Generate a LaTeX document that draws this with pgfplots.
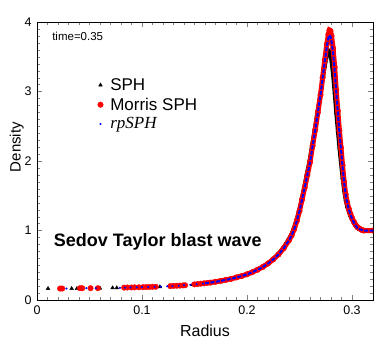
\documentclass[border=0pt]{standalone}
\usepackage{fontspec}
\setmainfont{Liberation Sans}
\newfontfamily\timesf{Liberation Serif}
\usepackage{pgfplots}
\pgfplotsset{compat=1.18}
\begin{document}
\begin{tikzpicture}
\begin{axis}[
  scale only axis,
  width=336pt, height=278pt,
  xmin=0, xmax=0.32, ymin=0, ymax=4,
  xtick={0,0.1,0.2,0.3}, ytick={0,1,2,3,4},
  minor x tick num=9, minor y tick num=9,
  tick align=inside, major tick length=5pt, minor tick length=3pt,
  xticklabel style={/pgf/number format/fixed, /pgf/number format/assume math mode=true, font=\fontsize{12.5}{14}\selectfont, yshift=-2pt},
  yticklabel style={/pgf/number format/assume math mode=true, font=\fontsize{12.5}{14}\selectfont, xshift=-2pt},
  xlabel={Radius}, ylabel={Density},
  xlabel style={font=\fontsize{16}{18}\selectfont, at={(axis description cs:0.5,-0.112)}, anchor=center},
  ylabel style={font=\fontsize{15}{17}\selectfont, at={(axis description cs:-0.06,0.55)}, anchor=center},
  legend style={draw=none, fill=none, at={(rel axis cs:0.18,0.805)}, anchor=north west,
    font=\fontsize{17}{19}\selectfont, row sep=2pt, inner sep=0pt,
    /tikz/every odd column/.append style={column sep=5pt}},
  legend cell align=left,
  every axis plot/.append style={mark options={line width=0.3pt}},
  clip marker paths=true,
  clip=true,
]
% SPH (black)
\addplot[only marks, mark=triangle*, mark size=2.2pt, black] coordinates {
(0.0105,0.165)(0.033,0.165)(0.038,0.165)(0.060,0.17)(0.072,0.175)(0.076,0.175)
(0.105,0.185)(0.117,0.19)(0.140,0.21)(0.148,0.22)(0.153,0.228)(0.158,0.236)
};
\addlegendentry{SPH}
\addplot[black, line width=4pt, mark=triangle*, mark size=2.2pt, forget plot] coordinates {
(0.160,0.24)(0.165,0.25)(0.170,0.262)(0.175,0.275)(0.180,0.29)(0.185,0.307)
(0.190,0.327)(0.195,0.348)(0.200,0.373)(0.205,0.403)(0.210,0.44)(0.215,0.48)
(0.220,0.53)(0.225,0.59)(0.230,0.665)(0.235,0.76)(0.240,0.88)(0.2425,0.95)
(0.245,1.05)(0.2475,1.17)(0.250,1.31)(0.2525,1.48)(0.255,1.66)(0.2575,1.85)
(0.260,2.04)(0.2625,2.27)(0.265,2.50)(0.2675,2.74)(0.270,2.97)(0.272,3.17)
(0.274,3.36)(0.276,3.52)(0.2775,3.59)(0.279,3.56)(0.2805,3.44)(0.282,3.24)
(0.2835,2.98)(0.285,2.70)(0.2865,2.44)(0.288,2.20)(0.2895,1.97)(0.291,1.76)
(0.2925,1.58)(0.294,1.44)(0.2955,1.34)(0.297,1.27)(0.2985,1.21)(0.300,1.16)
(0.302,1.10)(0.3035,1.07)(0.305,1.04)(0.307,1.02)(0.309,1.01)(0.312,1.0)(0.320,1.0)
};
% Morris SPH (red)
\addplot[only marks, mark=*, mark size=2.8pt, red] coordinates {
(0.022,0.165)(0.024,0.165)(0.041,0.17)(0.043,0.17)(0.051,0.17)(0.058,0.17)
(0.083,0.178)(0.086,0.18)(0.090,0.18)(0.093,0.182)(0.097,0.183)(0.101,0.185)
(0.104,0.186)(0.107,0.187)(0.110,0.19)(0.113,0.19)(0.127,0.2)(0.130,0.203)
(0.133,0.205)(0.136,0.207)(0.139,0.21)(0.141,0.212)(0.150,0.225)(0.153,0.23)
(0.156,0.235)(0.159,0.24)(0.162,0.245)
};
\addlegendentry{Morris SPH}
\addplot[red, line width=5pt, mark=*, mark size=2.8pt, forget plot] coordinates {
(0.165,0.25)(0.170,0.262)(0.175,0.275)(0.180,0.29)(0.185,0.305)(0.190,0.325)
(0.195,0.345)(0.200,0.37)(0.205,0.40)(0.210,0.435)(0.215,0.475)(0.220,0.525)
(0.225,0.585)(0.230,0.655)(0.235,0.745)(0.240,0.86)(0.2425,0.93)(0.245,1.02)
(0.2475,1.14)(0.250,1.28)(0.2525,1.45)(0.255,1.62)(0.2575,1.80)(0.260,1.98)
(0.2625,2.22)(0.265,2.45)(0.2675,2.70)(0.270,2.95)(0.272,3.20)(0.274,3.45)
(0.276,3.68)(0.2775,3.82)(0.2785,3.88)(0.2795,3.87)(0.2805,3.80)(0.282,3.62)
(0.2835,3.35)(0.285,3.02)(0.2865,2.72)(0.288,2.44)(0.2895,2.19)(0.291,1.94)
(0.2925,1.70)(0.294,1.52)(0.2955,1.40)(0.297,1.31)(0.2985,1.24)(0.300,1.18)
(0.302,1.12)(0.3035,1.08)(0.305,1.05)(0.307,1.03)(0.309,1.01)(0.311,1.0)(0.320,1.0)
};
% rpSPH (blue)
\addplot[only marks, mark=*, mark size=0.9pt, blue] coordinates {
(0.028,0.165)(0.047,0.17)(0.056,0.17)(0.079,0.175)(0.084,0.178)(0.089,0.18)
(0.095,0.182)(0.100,0.185)(0.106,0.187)(0.112,0.19)(0.118,0.192)(0.124,0.197)
(0.129,0.2)(0.135,0.206)(0.140,0.211)(0.146,0.218)(0.152,0.227)(0.158,0.237)
};
\addlegendentry{{\timesf\itshape rpSPH}}
\addplot[blue, line width=2pt, dash pattern=on 4pt off 1.5pt, forget plot] coordinates {
(0.160,0.24)(0.165,0.25)(0.170,0.262)(0.175,0.275)(0.180,0.29)(0.185,0.305)(0.190,0.325)
(0.195,0.345)(0.200,0.37)(0.205,0.40)(0.210,0.435)(0.215,0.475)(0.220,0.525)
(0.225,0.585)(0.230,0.655)(0.235,0.745)(0.240,0.86)(0.2425,0.93)(0.245,1.02)
(0.2475,1.14)(0.250,1.28)(0.2525,1.45)(0.255,1.62)(0.2575,1.80)(0.260,1.98)
(0.2625,2.22)(0.265,2.45)(0.2675,2.70)(0.270,2.95)(0.272,3.19)(0.274,3.43)
(0.276,3.64)(0.2775,3.77)(0.2785,3.81)(0.2795,3.79)(0.2805,3.72)(0.282,3.55)
(0.2835,3.30)(0.285,2.99)(0.2865,2.70)(0.288,2.42)(0.2895,2.17)(0.291,1.92)
(0.2925,1.69)(0.294,1.51)(0.2955,1.39)(0.297,1.30)(0.2985,1.23)(0.300,1.17)
(0.302,1.11)(0.3035,1.07)(0.305,1.04)(0.307,1.02)(0.309,1.01)(0.311,1.0)(0.320,1.0)
};
\node[anchor=west, font=\fontsize{11.5}{13}\selectfont] at (rel axis cs:0.035,0.95) {time=0.35};
\node[anchor=west, font=\bfseries\fontsize{18}{20}\selectfont] at (rel axis cs:0.04,0.21) {Sedov Taylor blast wave};
\end{axis}
\path (current axis.south west) ++(-37pt,-51pt) coordinate (bbA);
\path (bbA) rectangle ++(374pt,351pt);
\end{tikzpicture}
\end{document}
